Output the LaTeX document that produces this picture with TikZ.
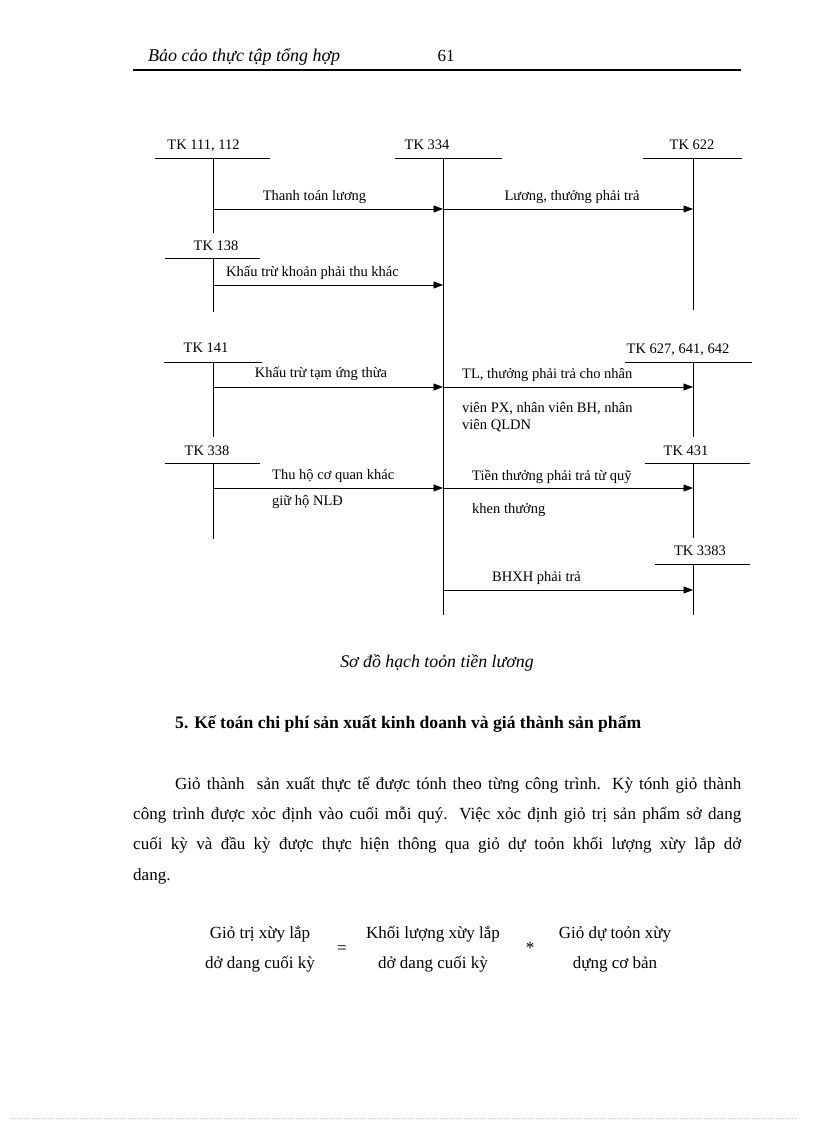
\documentclass[tikz,border=0pt]{standalone}
\usepackage{fontspec}
\setmainfont{Liberation Serif}
\usetikzlibrary{arrows.meta}
\begin{document}
\begin{tikzpicture}[x=1pt,y=-1pt,
  acct/.style={line width=0.8pt},
  flow/.style={line width=0.8pt,-{Triangle[length=9.5pt,width=7pt]}},
  lbl/.style={font=\fontsize{14.5}{16}\selectfont,inner sep=0pt,text height=0.7em,text depth=0pt},
  body/.style={font=\fontsize{17}{20}\selectfont,inner sep=0pt,text height=0.7em,text depth=0pt},
  rulebar/.style={line width=1.8pt}]
\useasboundingbox (0,0) rectangle (816,1123);

% header
\node[body,anchor=west,font=\fontsize{18}{20}\selectfont\itshape] (hdr) at (148,58) {Bảo cảo thực tập tổng hợp};
\node[body] (pg) at (446,58) {61};
\coordinate (hl) at (133,70); \coordinate (hr) at (741,70);
\draw[rulebar] (hl) -- (hr);

% account labels
\node[lbl] (tk111) at (203.5,146) {TK 111, 112};
\node[lbl] (tk334) at (427,146) {TK 334};
\node[lbl] (tk622) at (692,146) {TK 622};
\node[lbl] (tk138) at (216,247) {TK 138};
\node[lbl] (tk141) at (206,349) {TK 141};
\node[lbl] (tk338) at (207,452) {TK 338};
\node[lbl] (tk627) at (678,350) {TK 627, 641, 642};
\node[lbl] (tk431) at (686,452) {TK 431};
\node[lbl] (tk3383) at (700,552) {TK 3383};

% T-account bars
\coordinate (b111a) at (155,158); \coordinate (b111b) at (270,158);
\coordinate (b334a) at (395,158); \coordinate (b334b) at (502,158);
\coordinate (b622a) at (643,158); \coordinate (b622b) at (742,158);
\coordinate (b138a) at (165,258); \coordinate (b138b) at (260,258);
\coordinate (b141a) at (164,362); \coordinate (b141b) at (262,362);
\coordinate (b338a) at (165,463); \coordinate (b338b) at (260,463);
\coordinate (b627a) at (625,362); \coordinate (b627b) at (752,362);
\coordinate (b431a) at (645,463); \coordinate (b431b) at (750,463);
\coordinate (b3383a) at (655,564); \coordinate (b3383b) at (750,564);
\foreach \n in {111,334,622,138,141,338,627,431,3383}
  \draw[acct] (b\n a) -- (b\n b);

% T-account stems
\coordinate (v111t) at (213,158); \coordinate (v111e) at (213,233);
\coordinate (v334t) at (443,158); \coordinate (v334e) at (443,615);
\coordinate (v622t) at (693,158); \coordinate (v622e) at (693,310);
\coordinate (v138t) at (213,258); \coordinate (v138e) at (213,312);
\coordinate (v141t) at (213,362); \coordinate (v141e) at (213,437);
\coordinate (v338t) at (213,463); \coordinate (v338e) at (213,539);
\coordinate (v627t) at (693,362); \coordinate (v627e) at (693,437);
\coordinate (v431t) at (693,463); \coordinate (v431e) at (693,538);
\coordinate (v3383t) at (693,564); \coordinate (v3383e) at (693,615);
\foreach \n in {111,334,622,138,141,338,627,431,3383}
  \draw[acct] (v\n t) -- (v\n e);

% flow points
\coordinate (f1s) at (213,209); \coordinate (f1e) at (443,209);
\coordinate (f2e) at (693,209);
\coordinate (f3s) at (213,285); \coordinate (f3e) at (443,285);
\coordinate (f4s) at (213,387); \coordinate (f4e) at (443,387);
\coordinate (f5e) at (693,387);
\coordinate (f6s) at (213,488); \coordinate (f6e) at (443,488);
\coordinate (f7e) at (693,488);
\coordinate (f8s) at (443,590); \coordinate (f8e) at (693,590);
\draw[flow] (f1s) -- (f1e);
\draw[flow] (f1e) -- (f2e);
\draw[flow] (f3s) -- (f3e);
\draw[flow] (f4s) -- (f4e);
\draw[flow] (f4e) -- (f5e);
\draw[flow] (f6s) -- (f6e);
\draw[flow] (f6e) -- (f7e);
\draw[flow] (f8s) -- (f8e);

% flow labels
\node[lbl] (l1) at (314.5,197) {Thanh toán lương};
\node[lbl] (l2) at (572,197) {Lương, thưởng phải trả};
\node[lbl] (l3) at (312.5,273) {Khấu trừ khoản phải thu khác};
\node[lbl] (l4) at (321,374) {Khấu trừ tạm ứng thừa};
\node[lbl,anchor=west] (l5a) at (272,476) {Thu hộ cơ quan khác};
\node[lbl,anchor=west] (l5b) at (272,502) {giữ hộ NLĐ};
\node[lbl,anchor=west] (l6a) at (462,375) {TL, thưởng phải trả cho nhân};
\node[lbl,anchor=west] (l6b) at (462,409) {viên PX, nhân viên BH, nhân};
\node[lbl,anchor=west] (l6c) at (462,426) {viên QLDN};
\node[lbl,anchor=west] (l7a) at (472,477) {Tiền thưởng phải trả từ quỹ};
\node[lbl,anchor=west] (l7b) at (472,510) {khen thưởng};
\node[lbl,anchor=west] (l8) at (492,578) {BHXH phải trả};

% caption
\node[body,font=\fontsize{17.8}{20}\selectfont\itshape] (cap) at (437,664) {Sơ đồ hạch toỏn tiền lương};

% heading
\node[body,anchor=west,font=\fontsize{17.6}{20}\selectfont\bfseries] (head) at (175,725) {5. Kế toán chi phí sản xuất kinh doanh và giá thành sản phẩm};

% paragraph
\node[body,anchor=west] (p1) at (175,786) {\makebox[566pt][s]{Giỏ thành\ \ sản xuất thực tế được tónh theo từng công trình. Kỳ tónh giỏ thành}};
\node[body,anchor=west] (p2) at (133,816) {\makebox[608pt][s]{công trình được xỏc định vào cuối mỗi quý. Việc xỏc định giỏ trị sản phẩm sở dang}};
\node[body,anchor=west] (p3) at (133,846) {\makebox[608pt][s]{cuối kỳ và đầu kỳ được thực hiện thông qua giỏ dự toỏn khối lượng xừy lắp dở}};
\node[body,anchor=west] (p4) at (133,877) {dang.};

% formula
\node[body] (fa1) at (260,935) {Giỏ trị xừy lắp};
\node[body] (fa2) at (260,965) {dở dang cuối kỳ};
\node[body] (feq) at (342,950) {=};
\node[body] (fb1) at (433,935) {Khối lượng xừy lắp};
\node[body] (fb2) at (433,965) {dở dang cuối kỳ};
\node[body] (fmul) at (530,950) {*};
\node[body] (fc1) at (615,935) {Giỏ dự toỏn xừy};
\node[body] (fc2) at (615,965) {dựng cơ bản};

% faint dotted bottom line
\coordinate (dl) at (10,1118); \coordinate (dr) at (795,1118);
\draw[gray!45,dotted,line width=0.4pt] (dl) -- (dr);
\end{tikzpicture}
\end{document}
